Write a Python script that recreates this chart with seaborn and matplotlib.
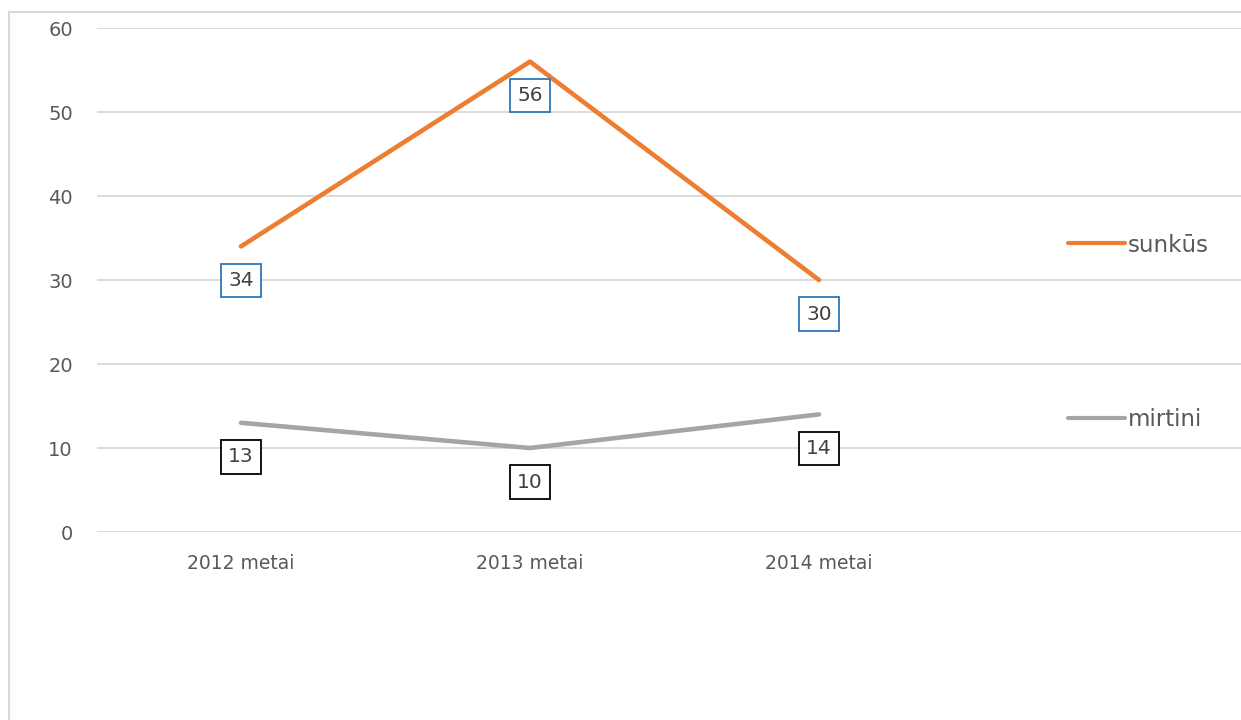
import pandas as pd
import matplotlib.pyplot as plt
import seaborn as sns
from matplotlib.lines import Line2D
from matplotlib.patches import Rectangle

# data
years = ["2012 metai", "2013 metai", "2014 metai"]
sunkus = [34, 56, 30]
mirtini = [13, 10, 14]
series_names = ["sunkūs", "mirtini"]

ORANGE = "#ED7D31"
GREY = "#A5A5A5"
TEXT = "#595959"
GRID = "#D9D9D9"

df = pd.DataFrame({
    "metai": years * 2,
    "kiekis": sunkus + mirtini,
    "serija": [series_names[0]] * 3 + [series_names[1]] * 3,
})

sns.set_theme(style="white")
plt.rcParams["font.family"] = ["DejaVu Sans"]

fig = plt.figure(figsize=(12.41, 7.2), dpi=100)
ax = fig.add_axes([96.5 / 1241, 188 / 720, 1 - 96.5 / 1241, 504 / 720])

sns.lineplot(data=df, x="metai", y="kiekis", hue="serija",
             palette={series_names[0]: ORANGE, series_names[1]: GREY},
             linewidth=3.3, sort=False, ax=ax, legend=False)

ax.set_ylim(0, 60)
ax.set_yticks(range(0, 61, 10))
ax.set_xlim(-0.5, (1241 - 96.5) / 289 - 0.5)
ax.set_xticks(range(len(years)))
ax.set_xticklabels(years)
ax.grid(axis="y", color=GRID, linewidth=1.3)
ax.grid(axis="x", visible=False)
for s in ax.spines.values():
    s.set_visible(False)
ax.tick_params(axis="y", length=0, pad=17, labelsize=14, labelcolor=TEXT)
ax.tick_params(axis="x", length=0, pad=16, labelsize=13.5, labelcolor=TEXT)
ax.set_xlabel("")
ax.set_ylabel("")

# data labels below each point
for vals, edge in [(sunkus, "#2E75B6"), (mirtini, "black")]:
    for i, v in enumerate(vals):
        ax.annotate(str(v), (i, v), xytext=(0, -24.5), textcoords="offset points",
                    ha="center", va="center", fontsize=14.5, color="#404040",
                    bbox=dict(boxstyle="square,pad=0.36", fc="white", ec=edge, lw=1.3))

# legend entries at the right
for name, color, ypos in [(series_names[0], ORANGE, 245), (series_names[1], GREY, 420)]:
    h = Line2D([], [], color=color, linewidth=3.0, solid_capstyle="round")
    leg = fig.legend([h], [name], loc="center left",
                     bbox_to_anchor=(1057 / 1241, 1 - ypos / 720),
                     frameon=False, fontsize=16.5, handlelength=2.45,
                     handletextpad=0.15, borderpad=0, labelcolor=TEXT)

# outer chart border
fig.patches.append(Rectangle((8.5 / 1241, -0.05), 1.2, 1.05 - 12 / 720,
                             transform=fig.transFigure, fill=False,
                             ec=GRID, lw=1.5))

fig.savefig("out.png", dpi=100)
